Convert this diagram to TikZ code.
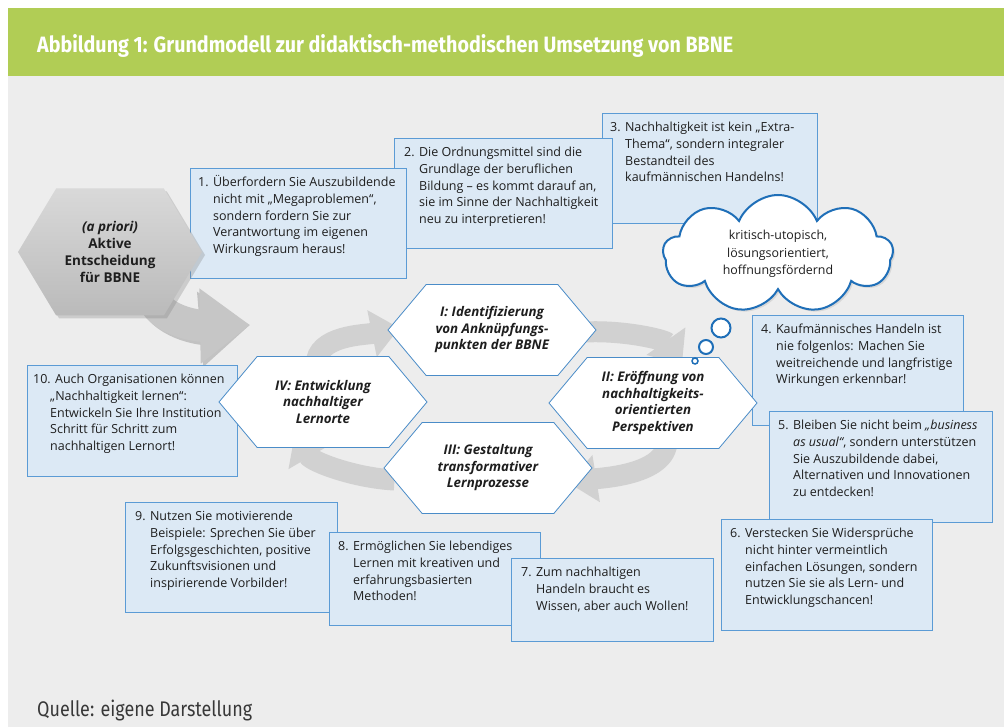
\documentclass[tikz,border=0pt]{standalone}
\usepackage{fontspec}
\setmainfont{Open Sans}
\newfontfamily\headfont{Fira Sans}
\usetikzlibrary{shapes.symbols,shadows,arrows.meta,calc}
\definecolor{bgrey}{HTML}{EDEDED}
\definecolor{hgreen}{HTML}{B1CD55}
\definecolor{boxfill}{HTML}{DCE9F5}
\definecolor{boxline}{HTML}{5B9BD5}
\definecolor{hexline}{HTML}{4A8CC8}
\definecolor{cloudline}{HTML}{1F6FB8}
\definecolor{cycgrey}{HTML}{D1D1D1}
\definecolor{biggrey}{HTML}{C6C6C6}
\definecolor{txt}{HTML}{1E1E1E}
\pgfdeclarelayer{back}
\pgfdeclarelayer{arrowlayer}
\pgfsetlayers{back,arrowlayer,main}
\tikzset{
  infobox/.style={anchor=north west, draw=boxline, fill=boxfill, line width=0.9pt, inner sep=0pt},
  boxtext/.style={anchor=north west, inner sep=0pt, align=left, text=txt, font=\fontsize{12.5}{16.8}\selectfont},
  cyclehex/.style={signal, signal to=west and east, signal pointer angle=100, draw=hexline, line width=0.8pt, fill=white, minimum width=208pt, minimum height=91pt, inner sep=1pt, align=center, text=txt, font=\fontsize{13.3}{16.5}\selectfont\bfseries\itshape},
  cyc/.style={draw=cycgrey, line width=21pt, -{Triangle[length=28pt,width=46pt]}},
  bigarrow/.style={draw=biggrey, line width=32pt, -{Triangle[length=50pt,width=72pt]}},
  bubble/.style={circle, draw=cloudline, line width=2pt, fill=white, inner sep=0pt},
}
\newcommand\indt{\hspace*{15pt}}
\newcommand\tbox[7]{%
  \node[infobox, minimum width=#4pt, minimum height=#5pt] (#1) at (#2,#3) {};
  \node[boxtext] (#1t) at ([xshift=#6pt,yshift=-6.5pt]#1.north west) {\strut #7};
}
\begin{document}
\begin{tikzpicture}[x=1pt,y=-1pt]
\useasboundingbox (0,0) rectangle (1007,727);
\begin{pgfonlayer}{back}
\fill[bgrey] (8,76) rectangle (1004,727);
\fill[hgreen] (8,8) rectangle (1004,76);
\end{pgfonlayer}
\node[anchor=base west, inner sep=0pt, text=white] (title) at (37,52.5) {\resizebox{696pt}{18pt}{\headfont\bfseries Abbildung 1: Grundmodell zur didaktisch-methodischen Umsetzung von BBNE}};
\node[anchor=base west, inner sep=0pt, text=black!78] (source) at (37,716) {\resizebox{215pt}{16.5pt}{\headfont Quelle: eigene Darstellung}};

% top boxes
\tbox{b3}{602}{113}{215}{110}{8}{3. Nachhaltigkeit ist kein „Extra-\\\indt Thema“, sondern integraler\\\indt Bestandteil des\\\indt kaufmännischen Handelns!}
\tbox{b2}{394}{138}{218}{110}{10}{2. Die Ordnungsmittel sind die\\\indt Grundlage der beruflichen\\\indt Bildung – es kommt darauf an,\\\indt sie im Sinne der Nachhaltigkeit\\\indt neu zu interpretieren!}
\tbox{b1}{190}{168}{216}{110}{8}{1. Überfordern Sie Auszubildende\\\indt nicht mit „Megaproblemen“,\\\indt sondern fordern Sie zur\\\indt Verantwortung im eigenen\\\indt Wirkungsraum heraus!}
% right boxes
\tbox{b4}{752}{315}{211}{110}{9}{4. Kaufmännisches Handeln ist\\\indt nie folgenlos: Machen Sie\\\indt weitreichende und langfristige\\\indt Wirkungen erkennbar!}
\tbox{b5}{769}{411}{223}{111}{9}{5. Bleiben Sie nicht beim \textit{„business}\\\indt\textit{as usual“}, sondern unterstützen\\\indt Sie Auszubildende dabei,\\\indt Alternativen und Innovationen\\\indt zu entdecken!}
\tbox{b6}{721}{519}{211}{111}{9}{6. Verstecken Sie Widersprüche\\\indt nicht hinter vermeintlich\\\indt einfachen Lösungen, sondern\\\indt nutzen Sie sie als Lern- und\\\indt Entwicklungschancen!}
% bottom boxes
\tbox{b9}{125}{502}{212}{110}{10}{9. Nutzen Sie motivierende\\\indt Beispiele: Sprechen Sie über\\\indt Erfolgsgeschichten, positive\\\indt Zukunftsvisionen und\\\indt inspirierende Vorbilder!}
\tbox{b8}{329}{532}{211}{93}{9}{8. Ermöglichen Sie lebendiges\\\indt Lernen mit kreativen und\\\indt erfahrungsbasierten\\\indt Methoden!}
\tbox{b7}{511}{558}{202}{83}{10}{7. Zum nachhaltigen\\\indt Handeln braucht es\\\indt Wissen, aber auch Wollen!}
% left box
\tbox{b10}{27}{365}{210}{111}{6}{10. Auch Organisationen können\\\hspace*{17pt}„Nachhaltigkeit lernen“:\\\hspace*{17pt}Entwickeln Sie Ihre Institution\\\hspace*{17pt}Schritt für Schritt zum\\\hspace*{17pt}nachhaltigen Lernort!}

% cycle hexagons
\node[cyclehex] (hI) at (492,330) {I: Identifizierung\\von Anknüpfungs-\\punkten der BBNE};
\node[cyclehex] (hII) at (653,403) {II: Eröffnung von\\nachhaltigkeits-\\orientierten\\Perspektiven};
\node[cyclehex] (hIII) at (488,468) {III: Gestaltung\\transformativer\\Lernprozesse};
\node[cyclehex] (hIV) at (323,402) {IV: Entwicklung\\nachhaltiger\\Lernorte};

% a priori hexagon
\node[signal, signal to=west and east, signal pointer angle=118, minimum width=184pt, minimum height=127pt, top color=black!15, bottom color=black!27, drop shadow={shadow xshift=3pt, shadow yshift=-3pt, opacity=0.3}, align=center, text=txt, font=\fontsize{13.5}{16.8}\selectfont\bfseries] (prio) at (110,252) {\textit{(a priori)}\\Aktive\\Entscheidung\\für BBNE};

% cloud
\node[cloud, cloud puffs=9, cloud puff arc=135, aspect=1.9, draw=cloudline, line width=2pt, fill=white, minimum width=230pt, minimum height=118pt, inner sep=0pt, align=center, text=txt, font=\fontsize{12.4}{17.5}\selectfont, drop shadow={shadow xshift=2pt, shadow yshift=-2pt, opacity=0.2}] (cloud) at (778,254) {kritisch-utopisch,\\lösungsorientiert,\\hoffnungsfördernd};
\node[bubble, minimum size=19pt] (bub1) at (721,328) {};
\node[bubble, minimum size=14pt] (bub2) at (706,347) {};
\node[bubble, minimum size=6pt, line width=1.5pt] (bub3) at (695,361) {};

% arrows
\coordinate (entry) at (250,325);
\begin{pgfonlayer}{arrowlayer}
\draw[bigarrow, draw=black, opacity=0.18, xshift=3pt, yshift=-3pt] ($(prio.south)+(40,-23)$) .. controls (158,322) and (200,326) .. (entry);
\draw[bigarrow] ($(prio.south)+(40,-23)$) .. controls (158,322) and (200,326) .. (entry);
\draw[cyc] ($(hIV.north)+(-7,9)$) .. controls (316,335) and (365,335) .. ($(hI.west)+(12,-2)$);
\draw[cyc] ($(hI.east)+(-12,2)$) .. controls (625,330) and (665,340) .. ($(hII.north)+(29,7)$);
\draw[cyc] ($(hII.south)+(14,-8)$) .. controls (667,475) and (600,478) .. ($(hIII.east)+(-24,15)$);
\draw[cyc] ($(hIII.west)+(11,12)$) .. controls (355,478) and (312,462) .. ($(hIV.south)+(-28,-15)$);
\end{pgfonlayer}
\end{tikzpicture}
\end{document}
